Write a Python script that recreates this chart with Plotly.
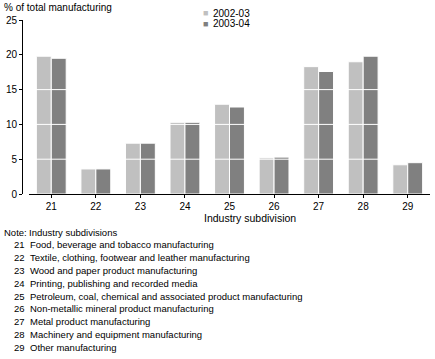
import plotly.graph_objects as go

# ---- data ----
categories = ["21", "22", "23", "24", "25", "26", "27", "28", "29"]
series_names = ["2002-03", "2003-04"]
values_2002_03 = [19.8, 3.6, 7.3, 10.3, 12.9, 5.2, 18.3, 19.0, 4.2]
values_2003_04 = [19.5, 3.6, 7.3, 10.3, 12.5, 5.3, 17.6, 19.8, 4.5]
y_ticks = [0, 5, 10, 15, 20, 25]
descriptions = [
    "Food, beverage and tobacco manufacturing",
    "Textile, clothing, footwear and leather manufacturing",
    "Wood and paper product manufacturing",
    "Printing, publishing and recorded media",
    "Petroleum, coal, chemical and associated product manufacturing",
    "Non-metallic mineral product manufacturing",
    "Metal product manufacturing",
    "Machinery and equipment manufacturing",
    "Other manufacturing",
]

# ---- layout geometry ----
W_FIG, H_FIG = 435, 359
L, R, T, B = 22, 5, 20, 165
PW = W_FIG - L - R
PH = H_FIG - T - B

def px(x):
    return (x - L) / PW

def py(y):
    return 1 - (y - T) / PH

FONT = "Liberation Sans Narrow, Arial Narrow, Liberation Sans, Arial, sans-serif"
LIGHT = "#c0c0c0"
DARK = "#808080"

fig = go.Figure()
fig.add_trace(go.Bar(x=categories, y=values_2002_03, name=series_names[0],
                     marker=dict(color=LIGHT, line=dict(color="white", width=1))))
fig.add_trace(go.Bar(x=categories, y=values_2003_04, name=series_names[1],
                     marker=dict(color=DARK, line=dict(color="white", width=1))))

# white grid lines drawn over the bars
shapes = []
for v in y_ticks[1:-1]:
    shapes.append(dict(type="line", xref="x domain", yref="y", x0=0, x1=1, y0=v, y1=v,
                       line=dict(color="white", width=1), layer="above"))

annotations = []
# y-axis title
annotations.append(dict(text="% of total manufacturing", x=px(2), y=py(7.5), xref="paper", yref="paper",
                        xanchor="left", yanchor="middle", showarrow=False, font=dict(size=10)))
# x-axis title
annotations.append(dict(text="Industry subdivision", x=px(250), y=py(218), xref="paper", yref="paper",
                        xanchor="center", yanchor="middle", showarrow=False, font=dict(size=10.5)))
# legend
for i, (nm, col) in enumerate(zip(series_names, [LIGHT, DARK])):
    yy = 13.3 + i * 10.7
    annotations.append(dict(text="■", x=px(205), y=py(yy), xref="paper", yref="paper",
                            xanchor="center", yanchor="middle", showarrow=False,
                            font=dict(size=9, color=col)))
    annotations.append(dict(text=nm, x=px(211), y=py(yy), xref="paper", yref="paper",
                            xanchor="left", yanchor="middle", showarrow=False, font=dict(size=10)))
# note
NOTE_SIZE = 9.5
y0, dy = 232, 12.83
annotations.append(dict(text="Note:", x=px(2), y=py(y0), xref="paper", yref="paper",
                        xanchor="left", yanchor="middle", showarrow=False, font=dict(size=NOTE_SIZE)))
annotations.append(dict(text="Industry subdivisions", x=px(27), y=py(y0), xref="paper", yref="paper",
                        xanchor="left", yanchor="middle", showarrow=False, font=dict(size=NOTE_SIZE)))
for i, (c, d) in enumerate(zip(categories, descriptions)):
    yy = y0 + (i + 1) * dy
    annotations.append(dict(text=c, x=px(12), y=py(yy), xref="paper", yref="paper",
                            xanchor="left", yanchor="middle", showarrow=False, font=dict(size=NOTE_SIZE)))
    annotations.append(dict(text=d, x=px(28), y=py(yy), xref="paper", yref="paper",
                            xanchor="left", yanchor="middle", showarrow=False, font=dict(size=NOTE_SIZE)))

fig.update_layout(
    width=W_FIG, height=H_FIG,
    margin=dict(l=L, r=R, t=T, b=B, pad=0),
    paper_bgcolor="white", plot_bgcolor="white",
    font=dict(family=FONT, size=10, color="black"),
    showlegend=False,
    barmode="group", bargap=0.33, bargroupgap=0,
    xaxis=dict(domain=[px(29), 1], showline=True, linecolor="black", linewidth=1,
               ticks="outside", ticklen=3, tickcolor="black", showgrid=False,
               tickfont=dict(size=10)),
    yaxis=dict(range=[0, 25], tickvals=y_ticks, anchor="free", position=0,
               showline=True, linecolor="black", linewidth=1,
               ticks="outside", ticklen=3, tickcolor="black", showgrid=False,
               zeroline=False, tickfont=dict(size=10)),
    shapes=shapes,
    annotations=annotations,
)

fig.write_html("out.html", config={"displayModeBar": False},
               post_script="document.body.style.margin='0';document.body.style.padding='0';")
